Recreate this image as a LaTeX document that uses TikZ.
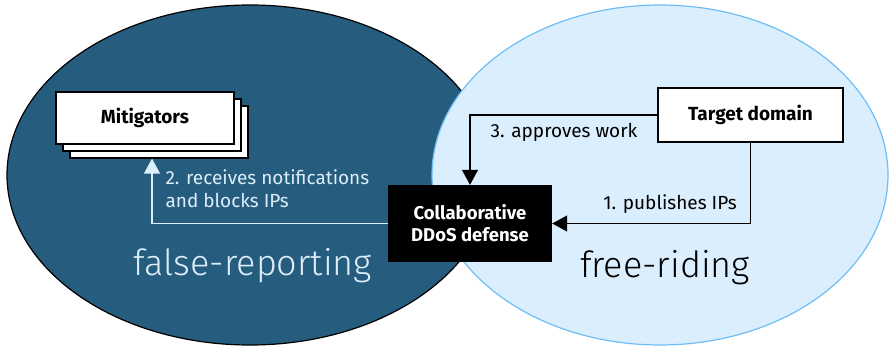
\documentclass[tikz,border=0pt]{standalone}
\usepackage{fontspec}
\setmainfont{Fira Sans}
\newfontfamily\lightfont{Fira Sans Light}
\usetikzlibrary{arrows.meta,positioning}

\definecolor{fillDark}{RGB}{38,92,126}
\definecolor{fillLight}{RGB}{218,238,253}
\definecolor{lineLight}{RGB}{110,190,245}
\definecolor{arrowLight}{RGB}{220,238,250}

\tikzset{
  whitebox/.style={draw,fill=white,line width=1.2pt,minimum width=178pt,minimum height=52pt,
    font=\fontsize{19}{22}\selectfont\bfseries},
  flow/.style={->,line width=1.3pt},
  steplabel/.style={font=\fontsize{19}{23}\selectfont},
}

\begin{document}
\begin{tikzpicture}[x=1pt,y=-1pt,>={Triangle[width=16pt,length=15pt]}]
    \useasboundingbox (0,0) rectangle (890,350);
    % the two areas
    \draw[fill=fillDark,line width=1.2pt] (250,175) ellipse[x radius=243,y radius=170];
    \draw[fill=fillLight,draw=lineLight,line width=1.2pt] (660,175) ellipse[x radius=228,y radius=170];
    \node[font=\lightfont\fontsize{36}{40}\selectfont,text=arrowLight] (fr) at (253,266) {false-reporting};
    \node[font=\lightfont\fontsize{36}{40}\selectfont] (ride) at (665,268) {free-riding};

    % stacked mitigators
    \node[whitebox] (mit3) at (159,132) {};
    \node[whitebox] (mit2) at (152,125) {};
    \node[whitebox] (mit) at (145,118) {Mitigators};

    \node[whitebox,minimum width=185pt,minimum height=54pt] (target) at (750.5,115) {Target domain};
    \node[fill=black,text=white,minimum width=164pt,minimum height=77pt,align=center,
      font=\fontsize{18.5}{22}\selectfont\bfseries] (collab) at (470,223.5) {Collaborative\\DDoS defense};

    \draw[flow] (target.south) |- (collab.east);
    \draw[flow] (target.west) -| (collab.north);
    \draw[flow,draw=arrowLight] (collab.west) -| (mit2.south |- mit3.south);

    \node[steplabel] (l1) at (670,204) {1. publishes IPs};
    \node[steplabel,text=arrowLight,align=left,anchor=west] (l2) at (162,189)
      {2. receives notifications\\and blocks IPs};
    \node[steplabel] (l3) at (564,132) {3. approves work};
  \end{tikzpicture}
\end{document}
